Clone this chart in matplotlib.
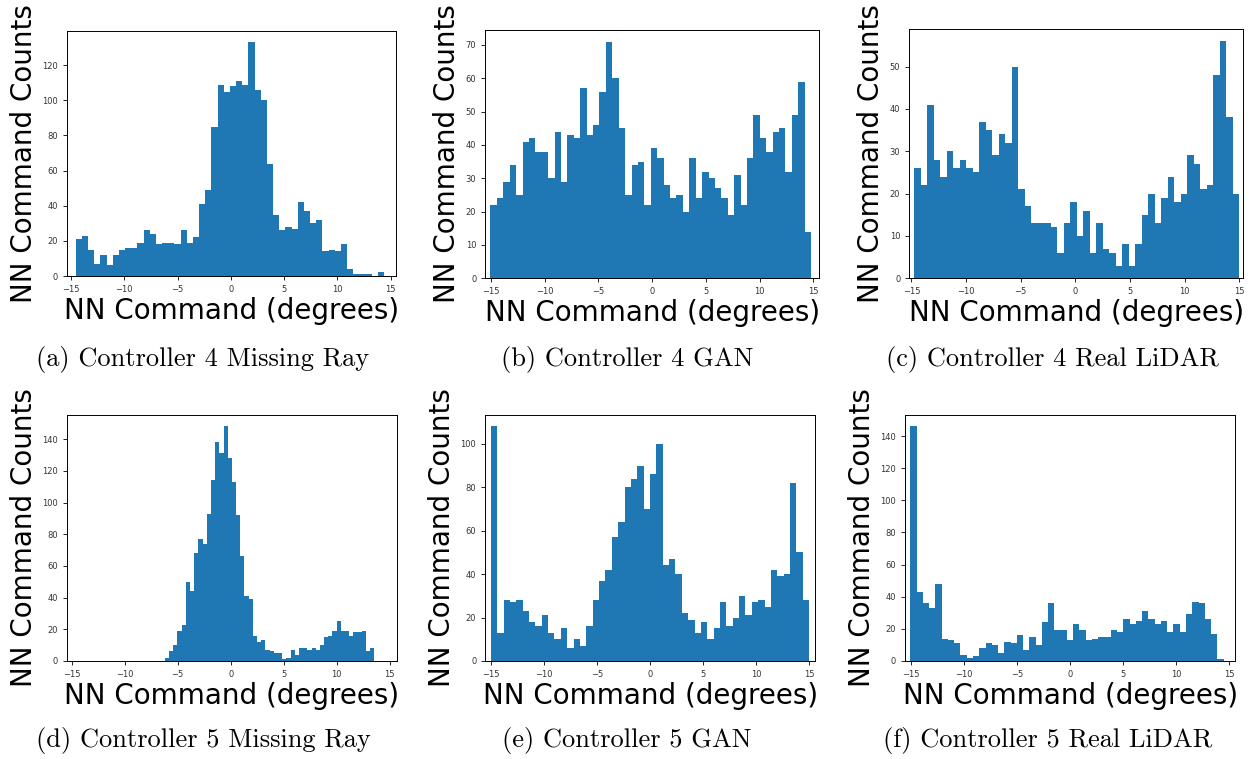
import numpy as np
import matplotlib
matplotlib.use("Agg")
import matplotlib.pyplot as plt
from matplotlib.ticker import MultipleLocator

# histogram counts per panel (50 bins each)
c4_missing = [21, 23, 15, 7, 12, 6, 12, 15, 16, 16, 19, 26, 24, 18, 19, 19, 18, 26, 19, 22,
              41, 49, 85, 109, 105, 108, 111, 109, 133, 106, 100, 64, 35, 26, 28, 27, 42, 37, 30, 32,
              14, 15, 14, 18, 4, 1, 1, 1, 0, 2]
c4_gan = [22, 24, 29, 34, 25, 41, 42, 38, 38, 30, 44, 29, 43, 42, 57, 43, 46, 56, 71, 60,
          45, 25, 34, 35, 22, 39, 36, 28, 24, 25, 20, 36, 24, 32, 30, 27, 24, 19, 31, 22,
          36, 49, 42, 38, 44, 45, 32, 49, 59, 14]
c4_real = [26, 22, 41, 28, 24, 30, 26, 28, 26, 25, 37, 35, 29, 34, 32, 50, 21, 17, 13, 13,
           13, 12, 6, 13, 18, 10, 16, 6, 13, 7, 6, 3, 8, 3, 8, 15, 20, 13, 19, 24,
           18, 20, 29, 27, 21, 22, 48, 56, 38, 20]
c5_missing = [2, 6, 10, 19, 23, 50, 44, 68, 77, 74, 93, 114, 138, 131, 148, 128, 113, 92, 66, 41,
              39, 16, 12, 13, 7, 6, 5, 5, 1, 2, 7, 4, 8, 8, 7, 8, 7, 10, 15, 16,
              19, 25, 19, 19, 16, 18, 18, 19, 6, 8]
c5_gan = [108, 13, 28, 27, 28, 23, 18, 16, 21, 13, 10, 15, 6, 10, 7, 16, 28, 37, 42, 57,
          64, 80, 84, 90, 70, 86, 100, 44, 47, 40, 22, 19, 13, 18, 10, 15, 27, 16, 20, 30,
          21, 27, 28, 25, 42, 39, 40, 82, 50, 28]
c5_real = [146, 43, 36, 33, 48, 14, 13, 11, 4, 2, 3, 8, 11, 10, 5, 12, 11, 16, 7, 15,
           10, 24, 36, 19, 19, 13, 23, 19, 13, 14, 15, 15, 19, 18, 26, 23, 25, 31, 26, 23,
           25, 18, 23, 18, 29, 37, 36, 26, 17, 1]

# data range of each histogram (degrees)
ranges = [(-14.55, 14.38), (-15.05, 14.8), (-14.75, 15.0),
          (-6.2, 13.54), (-15.0, 15.0), (-15.05, 14.48)]
captions = ["(a) Controller 4 Missing Ray", "(b) Controller 4 GAN", "(c) Controller 4 Real LiDAR",
            "(d) Controller 5 Missing Ray", "(e) Controller 5 GAN", "(f) Controller 5 Real LiDAR"]
all_counts = [c4_missing, c4_gan, c4_real, c5_missing, c5_gan, c5_real]

W, H = 1253, 759
fig = plt.figure(figsize=(W / 100, H / 100), dpi=100)

# axes boxes in pixels: left, top, right, bottom
boxes = [(66.7, 30.7, 396, 276), (485.3, 29.7, 819.3, 278.3), (909.3, 29.3, 1243.3, 278.3),
         (66.7, 414.7, 396.7, 661), (485.3, 414.7, 815.3, 661), (905, 414.7, 1235.3, 661)]
xlims = [(-15.4, 15.5), (-15.53, 15.56), (-15.2, 15.38),
         (-15.46, 15.65), (-15.52, 15.58), (-15.55, 15.58)]
ysteps = [20, 10, 10, 20, 20, 20]
cap_x = [203, 627, 1052, 203, 627, 1048]
cap_y = [360, 360, 360, 741, 741, 741]

for i, counts in enumerate(all_counts):
    l, t, r, b = boxes[i]
    ax = fig.add_axes([l / W, (H - b) / H, (r - l) / W, (b - t) / H])
    lo, hi = ranges[i]
    edges = np.linspace(lo, hi, len(counts) + 1)
    ax.hist(edges[:-1], bins=edges, weights=counts, color="#1f77b4")
    ax.set_xlim(*xlims[i])
    ax.xaxis.set_major_locator(MultipleLocator(5))
    ax.yaxis.set_major_locator(MultipleLocator(ysteps[i]))
    ax.tick_params(labelsize=6, length=3, width=0.6, labelcolor="#333333")
    for s in ax.spines.values():
        s.set_linewidth(0.7)
    ax.set_xlabel("NN Command (degrees)", fontsize=20, labelpad=2)
    ax.set_ylabel("NN Command Counts", fontsize=20, labelpad=3)
    fig.text(cap_x[i] / W, 1 - cap_y[i] / H, captions[i], fontsize=19,
             family="cmr10", ha="center", va="center")

fig.savefig("out.png", dpi=100)
